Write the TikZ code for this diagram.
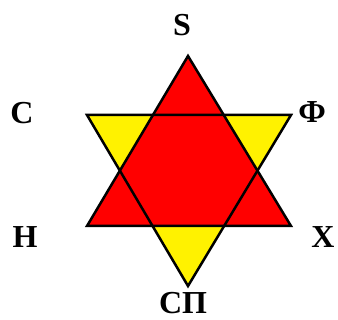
\documentclass[tikz,border=0pt]{standalone}
\usepackage{fontspec}
\setmainfont{Liberation Serif}
\usepackage{tikz}
\usetikzlibrary{positioning, calc}

\tikzset{
    etichetta/.style={font=\fontsize{32}{32}\selectfont\bfseries, inner sep=0pt},
    bordo/.style={draw=black, line width=2.5pt, line join=miter}
}

\begin{document}
\begin{tikzpicture}[x=1pt, y=-1pt]
    \useasboundingbox (0,0) rectangle (338,320);

    % Vertici dei triangoli
    \coordinate (A) at (188,56);
    \coordinate (B) at (87,226);
    \coordinate (C) at (291,226);
    \coordinate (D) at (87,115);
    \coordinate (E) at (291,115);
    \coordinate (F) at (188,286);

    % Triangolo giallo (verso il basso) e triangolo rosso (verso l'alto)
    \fill[yellow] (D) -- (E) -- (F) -- cycle;
    \fill[red] (A) -- (B) -- (C) -- cycle;
    \draw[bordo] (D) -- (E) -- (F) -- cycle;
    \draw[bordo] (A) -- (B) -- (C) -- cycle;

    % Etichette
    \node[etichetta] (s) at (182,25) {S};
    \node[etichetta] (sx) at (22,113) {С};
    \node[etichetta] (fi) at (312,112) {Ф};
    \node[etichetta] (n) at (25,237) {Н};
    \node[etichetta] (h) at (323,237) {Х};
    \node[etichetta] (sp) at (183,303) {СП};
\end{tikzpicture}
\end{document}
